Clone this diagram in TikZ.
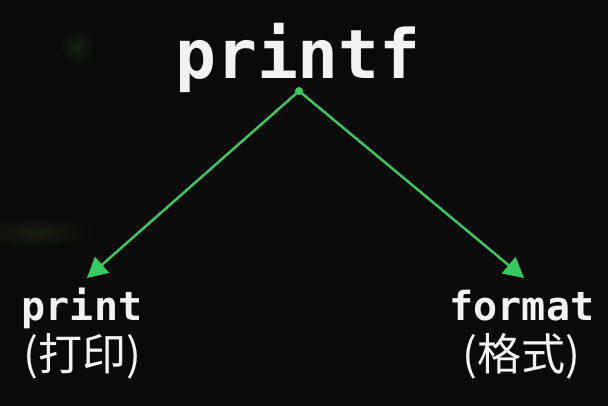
\documentclass[tikz,border=0pt]{standalone}
\usepackage{fontspec}
\usetikzlibrary{arrows.meta}
\newfontfamily\monof{DejaVu Sans Mono}
\newfontfamily\cjkf{Noto Sans CJK SC}
\definecolor{bgc}{RGB}{10,10,10}
\definecolor{txt}{RGB}{242,242,242}
\definecolor{grn}{RGB}{52,204,96}
\definecolor{blobg}{RGB}{18,34,18}
\definecolor{blobo}{RGB}{24,30,16}
\tikzset{
  title/.style={text=txt, font=\monof\bfseries\fontsize{68}{68}\selectfont, inner sep=0pt, anchor=base},
  term/.style={text=txt, font=\monof\bfseries\fontsize{40}{40}\selectfont, inner sep=0pt, anchor=base},
  gloss/.style={text=txt, font=\cjkf\fontsize{44}{44}\selectfont, inner sep=0pt, anchor=base},
  link/.style={draw=grn, line width=2.4pt, -{Triangle[length=20pt,width=21pt]}},
  dotnode/.style={circle, fill=grn, inner sep=0pt, minimum size=8pt}
}
\begin{document}
\begin{tikzpicture}[x=1pt,y=-1pt]
\fill[bgc] (0,0) rectangle (608,406);
\useasboundingbox (0,0) rectangle (608,406);
% faint background glows
\shade[inner color=blobg, outer color=bgc] (77,47) circle (18);
\shade[inner color=blobo, outer color=bgc] (35,232) ellipse (60 and 16);
% texts
\node[title] (t) at (298,79) {printf};
\node[term] (p) at (82,320) {print};
\node[gloss] (pz) at (82,370) {(打印)};
\node[term] (f) at (522,320) {format};
\node[gloss] (fz) at (521,370) {(格式)};
% connectors
\node[dotnode] (src) at (299,91) {};
\coordinate (lt) at (87,278);
\coordinate (rt) at (524,278);
\draw[link] (src.center) -- (lt);
\draw[link] (src.center) -- (rt);
\end{tikzpicture}
\end{document}
